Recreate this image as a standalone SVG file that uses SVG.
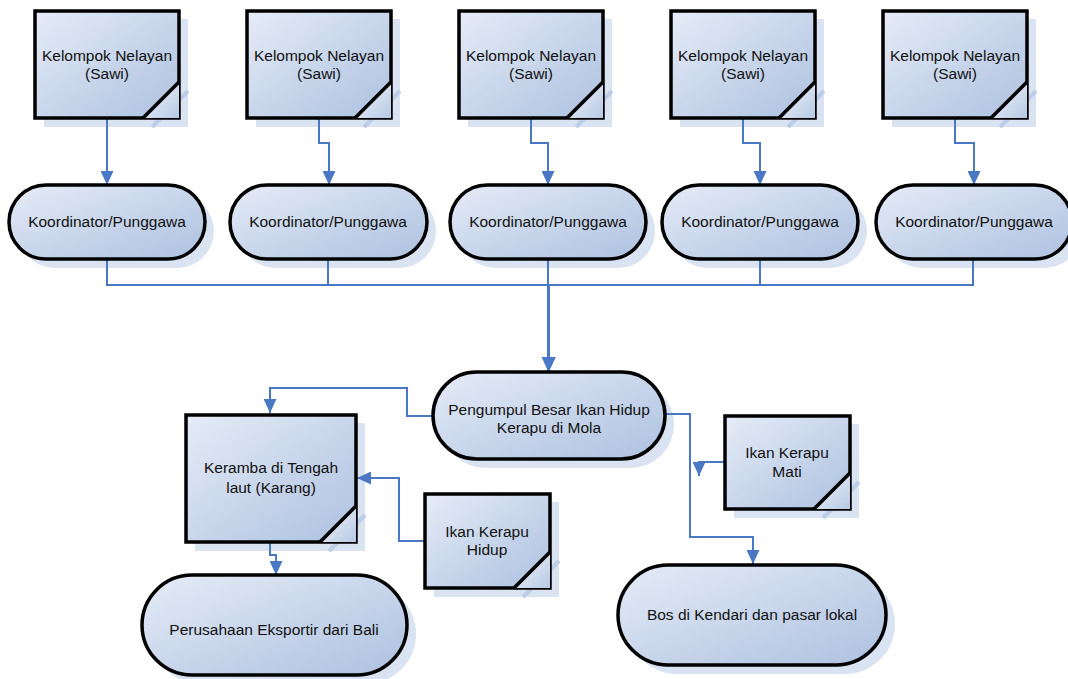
<svg xmlns="http://www.w3.org/2000/svg" width="1068" height="679" viewBox="0 0 1068 679">
<defs>
<linearGradient id="g" x1="0" y1="0" x2="1" y2="1">
<stop offset="0" stop-color="#e6ecf7"/>
<stop offset="0.55" stop-color="#c6d4ea"/>
<stop offset="1" stop-color="#adc1df"/>
</linearGradient>
<linearGradient id="fold" x1="0" y1="0" x2="1" y2="1">
<stop offset="0" stop-color="#a9bedf"/>
<stop offset="0.5" stop-color="#d6e1f1"/>
<stop offset="1" stop-color="#b6c8e3"/>
</linearGradient>
<marker id="ah" viewBox="0 0 14 13" refX="14" refY="6.5" markerWidth="14" markerHeight="13" markerUnits="userSpaceOnUse" orient="auto">
<path d="M0,0 L14,6.5 L0,13 z" fill="#4a78c4"/>
</marker>
<style>
.sh{fill:#d9e3f2;stroke:none}
.shl{stroke:#bccde8;stroke-width:4;fill:none}
.nd{fill:url(#g);stroke:#000;stroke-width:3.5}
.fd{fill:url(#fold);stroke:none}
.fl{stroke:#000;stroke-width:3.5;fill:none}
.t{font-family:"Liberation Sans",Arial,sans-serif;font-size:15.5px;fill:#111;text-anchor:middle}
.c{fill:none;stroke:#4a78c4;stroke-width:2}
</style>
</defs>
<g id="shadows">
<rect class="sh" x="44" y="19" width="144" height="108"/><path class="shl" d="M152,127 L188,91"/>
<rect class="sh" x="256" y="19" width="144" height="108"/><path class="shl" d="M364,127 L400,91"/>
<rect class="sh" x="468" y="19" width="144" height="108"/><path class="shl" d="M576,127 L612,91"/>
<rect class="sh" x="680" y="19" width="144" height="108"/><path class="shl" d="M788,127 L824,91"/>
<rect class="sh" x="892" y="19" width="144" height="108"/><path class="shl" d="M1000,127 L1036,91"/>
<rect class="sh" x="18" y="194" width="196" height="74" rx="37"/>
<rect class="sh" x="239" y="194" width="197" height="74" rx="37"/>
<rect class="sh" x="459" y="194" width="196" height="74" rx="37"/>
<rect class="sh" x="671" y="194" width="196" height="74" rx="37"/>
<rect class="sh" x="885" y="194" width="196" height="74" rx="37"/>
<rect class="sh" x="442" y="381" width="232" height="87" rx="43.5"/>
<rect class="sh" x="195" y="423" width="170" height="128"/><path class="shl" d="M329,551 L365,515"/>
<rect class="sh" x="434" y="502" width="125" height="95"/><path class="shl" d="M523,597 L559,561"/>
<rect class="sh" x="734" y="424" width="125" height="94"/><path class="shl" d="M823,518 L859,482"/>
<rect class="sh" x="627" y="574" width="268" height="100" rx="50"/>
<rect class="sh" x="151" y="584" width="265" height="100" rx="50"/>
</g>
<g id="connectors">
<path class="c" d="M107,118 V185" marker-end="url(#ah)"/>
<path class="c" d="M319,118 V143 H329 V185" marker-end="url(#ah)"/>
<path class="c" d="M531,118 V143 H548 V185" marker-end="url(#ah)"/>
<path class="c" d="M743,118 V143 H760 V185" marker-end="url(#ah)"/>
<path class="c" d="M955,118 V143 H974 V185" marker-end="url(#ah)"/>
<path class="c" d="M107,259 V285 H549 V371" marker-end="url(#ah)"/>
<path class="c" d="M328,259 V285 H549 V371" marker-end="url(#ah)"/>
<path class="c" d="M548,259 V371" stroke-width="2.5" marker-end="url(#ah)"/>
<path class="c" d="M760,259 V285 H549 V371" marker-end="url(#ah)"/>
<path class="c" d="M973,259 V285 H549 V371" marker-end="url(#ah)"/>
<path class="c" d="M433,416 H407 V388 H270 V413" marker-end="url(#ah)"/>
<path class="c" d="M665,414 H690 V537 H753 V564" marker-end="url(#ah)"/>
<path class="c" d="M725,462 H699 V476" marker-end="url(#ah)"/>
<path class="c" d="M425,541 H399 V478 H357" marker-end="url(#ah)"/>
<path class="c" d="M270,542 V555 H276 V575" marker-end="url(#ah)"/>
</g>
<g id="kn1">
<rect class="nd" x="35" y="11" width="144" height="107"/><path class="fd" d="M143,118 L179,82 L179,118 z"/><path class="fl" d="M143,118 L179,82"/>
<text class="t" x="107" y="61">Kelompok Nelayan</text><text class="t" x="107" y="79">(Sawi)</text>
</g>
<g id="kn2">
<rect class="nd" x="247" y="11" width="144" height="107"/><path class="fd" d="M355,118 L391,82 L391,118 z"/><path class="fl" d="M355,118 L391,82"/>
<text class="t" x="319" y="61">Kelompok Nelayan</text><text class="t" x="319" y="79">(Sawi)</text>
</g>
<g id="kn3">
<rect class="nd" x="459" y="11" width="144" height="107"/><path class="fd" d="M567,118 L603,82 L603,118 z"/><path class="fl" d="M567,118 L603,82"/>
<text class="t" x="531" y="61">Kelompok Nelayan</text><text class="t" x="531" y="79">(Sawi)</text>
</g>
<g id="kn4">
<rect class="nd" x="671" y="11" width="144" height="107"/><path class="fd" d="M779,118 L815,82 L815,118 z"/><path class="fl" d="M779,118 L815,82"/>
<text class="t" x="743" y="61">Kelompok Nelayan</text><text class="t" x="743" y="79">(Sawi)</text>
</g>
<g id="kn5">
<rect class="nd" x="883" y="11" width="144" height="107"/><path class="fd" d="M991,118 L1027,82 L1027,118 z"/><path class="fl" d="M991,118 L1027,82"/>
<text class="t" x="955" y="61">Kelompok Nelayan</text><text class="t" x="955" y="79">(Sawi)</text>
</g>
<g id="ko1">
<rect class="nd" x="9" y="185" width="196" height="74" rx="37"/>
<text class="t" x="107" y="227">Koordinator/Punggawa</text>
</g>
<g id="ko2">
<rect class="nd" x="230" y="185" width="197" height="74" rx="37"/>
<text class="t" x="328" y="227">Koordinator/Punggawa</text>
</g>
<g id="ko3">
<rect class="nd" x="450" y="185" width="196" height="74" rx="37"/>
<text class="t" x="548" y="227">Koordinator/Punggawa</text>
</g>
<g id="ko4">
<rect class="nd" x="662" y="185" width="196" height="74" rx="37"/>
<text class="t" x="760" y="227">Koordinator/Punggawa</text>
</g>
<g id="ko5">
<rect class="nd" x="876" y="185" width="196" height="74" rx="37"/>
<text class="t" x="974" y="227">Koordinator/Punggawa</text>
</g>
<g id="pengumpul">
<rect class="nd" x="433" y="372" width="232" height="87" rx="43.5"/>
<text class="t" x="549" y="415">Pengumpul Besar Ikan Hidup</text>
<text class="t" x="549" y="433">Kerapu di Mola</text>
</g>
<g id="keramba">
<rect class="nd" x="186" y="415" width="170" height="127"/><path class="fd" d="M320,542 L356,506 L356,542 z"/><path class="fl" d="M320,542 L356,506"/>
<text class="t" x="271" y="473">Keramba di Tengah</text><text class="t" x="271" y="493">laut (Karang)</text>
</g>
<g id="ikanhidup">
<rect class="nd" x="425" y="494" width="125" height="94"/><path class="fd" d="M514,588 L550,552 L550,588 z"/><path class="fl" d="M514,588 L550,552"/>
<text class="t" x="487" y="537">Ikan Kerapu</text><text class="t" x="487" y="555">Hidup</text>
</g>
<g id="ikanmati">
<rect class="nd" x="725" y="416" width="125" height="93"/><path class="fd" d="M814,509 L850,473 L850,509 z"/><path class="fl" d="M814,509 L850,473"/>
<text class="t" x="787" y="458">Ikan Kerapu</text><text class="t" x="787" y="477">Mati</text>
</g>
<g id="bos">
<rect class="nd" x="618" y="565" width="268" height="100" rx="50"/>
<text class="t" x="752" y="620">Bos di Kendari dan pasar lokal</text>
</g>
<g id="perusahaan">
<rect class="nd" x="142" y="575" width="265" height="100" rx="50"/>
<text class="t" x="274" y="635">Perusahaan Eksportir dari Bali</text>
</g>
</svg>
